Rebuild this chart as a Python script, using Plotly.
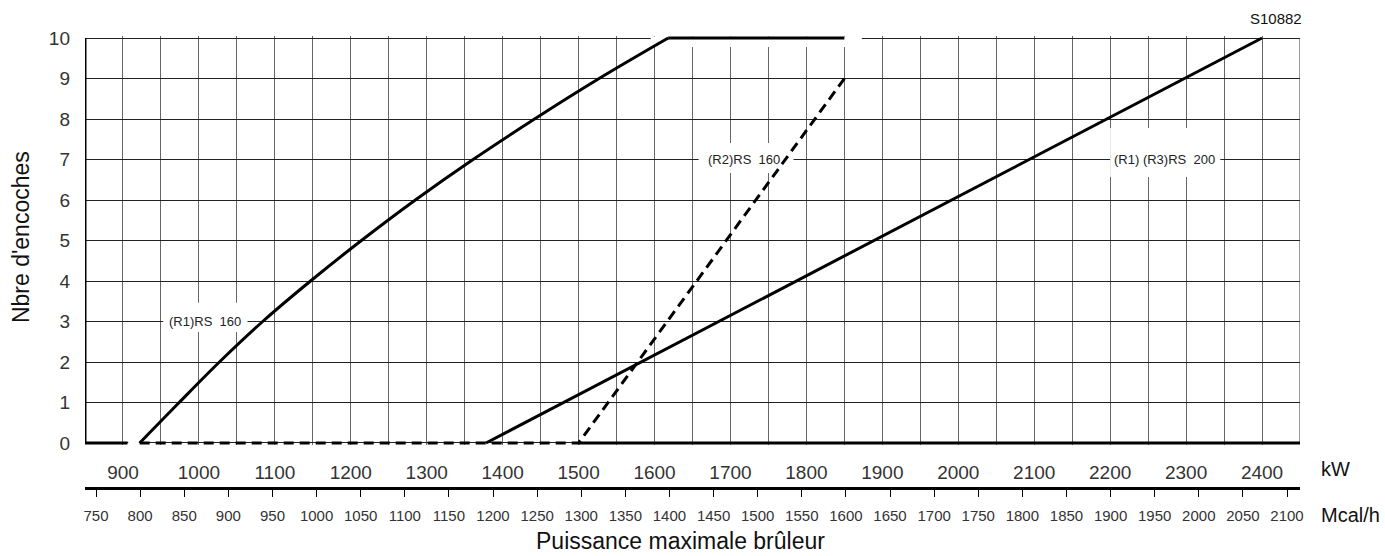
import plotly.graph_objects as go

# ---- data (kW vs number of notches) ----
r1_rs160_kw = [922, 974, 1027, 1084, 1147, 1214, 1285, 1361, 1442, 1527, 1618]
r1_rs160_n = [0, 1, 2, 3, 4, 5, 6, 7, 8, 9, 10]

top_limit_kw = [1618, 1850]
top_limit_n = [10, 10]

base_kw = [850, 906]
base_n = [0, 0]

r2_rs160_kw = [922, 1500, 1850]
r2_rs160_n = [0, 0, 9]

r1r3_rs200_kw = [1378, 2400]
r1r3_rs200_n = [0, 10]

r1r3_floor_kw = [1500, 2450]
r1r3_floor_n = [0, 0]

kw_ticks = list(range(850, 2451, 50))
kw_labels = [str(v) if (v % 100 == 0 and 900 <= v <= 2400) else "" for v in kw_ticks]
mcal_ticks = list(range(750, 2101, 50))
notch_ticks = list(range(0, 11))

FONT = "Liberation Sans, Arial, sans-serif"
LW = 3

fig = go.Figure()

def line(x, y, dash="solid", shape="linear"):
    fig.add_trace(go.Scatter(x=x, y=y, mode="lines",
                             line=dict(color="black", width=LW, dash=dash, shape=shape,
                                       smoothing=1.0 if shape == "spline" else None),
                             hoverinfo="skip", showlegend=False))

line(base_kw, base_n)
line(r1_rs160_kw, r1_rs160_n, shape="spline")
line(top_limit_kw, top_limit_n)
line(r2_rs160_kw, r2_rs160_n, dash="10px,6px")
line(r1r3_rs200_kw, r1r3_rs200_n)
line(r1r3_floor_kw, r1r3_floor_n)

# dummy trace for the Mcal/h axis
fig.add_trace(go.Scatter(x=[1000], y=[5], xaxis="x2", mode="markers",
                         marker=dict(opacity=0), hoverinfo="skip", showlegend=False))

shapes = []
# white gaps in the grid (under the curves)
white_boxes = [
    (953, 1064, 2.74, 3.46),
    (1658, 1783, 6.67, 7.41),
    (2200, 2345, 6.57, 7.78),
    (1595, 1873, 9.78, 10.04),
    (907, 921, -0.05, 0.05),
]
for x0, x1, y0, y1 in white_boxes:
    shapes.append(dict(type="rect", xref="x", yref="y", x0=x0, x1=x1, y0=y0, y1=y1,
                       fillcolor="white", line=dict(width=0), layer="between"))
# frame
shapes.append(dict(type="line", xref="x", yref="y", x0=850, x1=850, y0=0, y1=10,
                   line=dict(color="black", width=3), layer="above"))
shapes.append(dict(type="line", xref="x", yref="y", x0=2450, x1=2450, y0=0, y1=10,
                   line=dict(color="#333", width=1), layer="between"))

lab_font = dict(family=FONT, size=13, color="#222")
annotations = [
    dict(text="(R1)RS  160", x=1008, y=3, xref="x", yref="y", showarrow=False, font=lab_font),
    dict(text="(R2)RS  160", x=1718, y=7, xref="x", yref="y", showarrow=False, font=lab_font),
    dict(text="(R1) (R3)RS  200", x=2272, y=7, xref="x", yref="y", showarrow=False, font=lab_font),
    dict(text="kW", x=1.0296, y=0.042, xref="paper", yref="paper", showarrow=False,
         xanchor="center", yanchor="middle", font=dict(family=FONT, size=20, color="#111")),
    dict(text="Mcal/h", x=1.0415, y=-0.06, xref="paper", yref="paper", showarrow=False,
         xanchor="center", yanchor="middle", font=dict(family=FONT, size=20, color="#111")),
    dict(text="Puissance maximale brûleur", x=0.4905, y=-0.117, xref="paper", yref="paper",
         showarrow=False, xanchor="center", yanchor="middle",
         font=dict(family=FONT, size=23, color="#111")),
    dict(text="Nbre d'encoches", x=-0.0527, y=0.555, xref="paper", yref="paper",
         showarrow=False, textangle=-90, xanchor="center", yanchor="middle",
         font=dict(family=FONT, size=23, color="#111")),
    dict(text="S10882", x=0.98, y=1.038, xref="paper", yref="paper", showarrow=False,
         xanchor="center", yanchor="middle", font=dict(family=FONT, size=15, color="#111")),
]

fig.update_layout(
    width=1385, height=556,
    margin=dict(l=85, r=85, t=36, b=68),
    plot_bgcolor="white", paper_bgcolor="white",
    showlegend=False,
    xaxis=dict(range=[850, 2450], tickmode="array", tickvals=kw_ticks, ticktext=kw_labels,
               showgrid=True, gridcolor="#666", gridwidth=1, zeroline=False, showline=False,
               ticks="", ticklabelstandoff=14, anchor="y",
               tickfont=dict(family=FONT, size=19, color="#333")),
    xaxis2=dict(overlaying="x", anchor="free", position=0, side="bottom",
                range=[737.5, 2114.7], tickmode="array", tickvals=mcal_ticks,
                showgrid=False, zeroline=False, showline=True, linewidth=3, linecolor="black",
                ticks="outside", ticklen=7, tickwidth=1.2, tickcolor="black",
                ticklabelstandoff=6,
                tickfont=dict(family=FONT, size=15, color="#333")),
    yaxis=dict(domain=[0.0951, 1], range=[-0.05, 10.05], tickmode="array", tickvals=notch_ticks,
               showgrid=True, gridcolor="#222", gridwidth=1, zeroline=False, showline=False,
               ticks="", ticklabelstandoff=14,
               tickfont=dict(family=FONT, size=19, color="#333")),
    shapes=shapes,
    annotations=annotations,
)

fig.write_html("out.html")
